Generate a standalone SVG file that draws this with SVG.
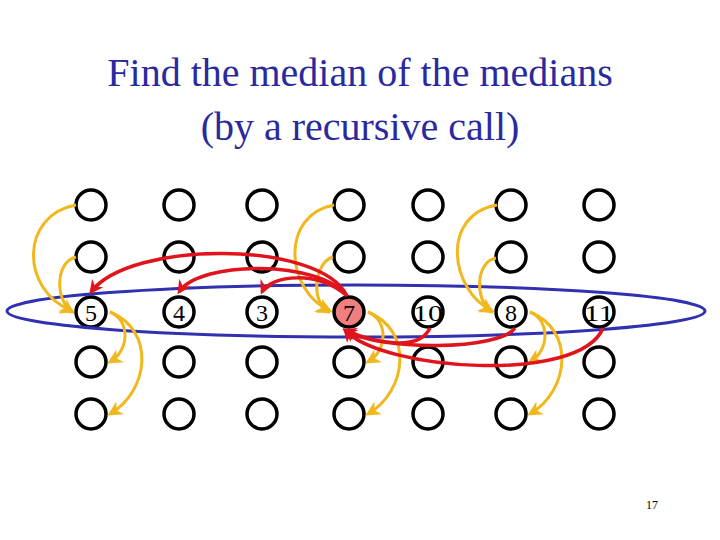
<svg xmlns="http://www.w3.org/2000/svg" width="720" height="540" viewBox="0 0 720 540">
<defs>
<style>
.t{font-family:"Liberation Serif",serif}
.n circle{fill:#fff;stroke:#000;stroke-width:3.5}
.y{fill:none;stroke:#f0b81c;stroke-width:3;marker-end:url(#ya)}
.r{fill:none;stroke:#e0141c;stroke-width:3.5;marker-end:url(#ra)}
</style>
<marker id="ya" viewBox="0 0 10 10" refX="8" refY="5" markerWidth="5" markerHeight="5" orient="auto-start-reverse"><path d="M0,0 L10,5 L0,10 L3,5z" fill="#f0b81c"/></marker>
<marker id="ra" viewBox="0 0 10 10" refX="8" refY="5" markerWidth="4" markerHeight="4" orient="auto-start-reverse"><path d="M0,0 L10,5 L0,10 L3,5z" fill="#e0141c"/></marker>
</defs>
<rect width="720" height="540" fill="#fff"/>
<text class="t" x="360" y="86" font-size="40" fill="#2a2aa0" text-anchor="middle">Find the median of the medians</text>
<text class="t" x="360" y="140" font-size="40" fill="#2a2aa0" text-anchor="middle">(by a recursive call)</text>
<g id="nodes" class="n">
<g id="c1"><circle cx="91" cy="205" r="15"/><circle cx="91" cy="257" r="15"/><circle cx="91" cy="312" r="15"/><circle cx="91" cy="362" r="15"/><circle cx="91" cy="414" r="15"/></g>
<g id="c2"><circle cx="179" cy="205" r="15"/><circle cx="179" cy="257" r="15"/><circle cx="179" cy="312" r="15"/><circle cx="179" cy="362" r="15"/><circle cx="179" cy="414" r="15"/></g>
<g id="c3"><circle cx="262" cy="205" r="15"/><circle cx="262" cy="257" r="15"/><circle cx="262" cy="312" r="15"/><circle cx="262" cy="362" r="15"/><circle cx="262" cy="414" r="15"/></g>
<g id="c4"><circle cx="349" cy="205" r="15"/><circle cx="349" cy="257" r="15"/><circle cx="349" cy="312" r="15" style="fill:#f08080"/><circle cx="349" cy="362" r="15"/><circle cx="349" cy="414" r="15"/></g>
<g id="c5"><circle cx="428" cy="205" r="15"/><circle cx="428" cy="257" r="15"/><circle cx="428" cy="312" r="15"/><circle cx="428" cy="362" r="15"/><circle cx="428" cy="414" r="15"/></g>
<g id="c6"><circle cx="511" cy="205" r="15"/><circle cx="511" cy="257" r="15"/><circle cx="511" cy="312" r="15"/><circle cx="511" cy="362" r="15"/><circle cx="511" cy="414" r="15"/></g>
<g id="c7"><circle cx="599" cy="205" r="15"/><circle cx="599" cy="257" r="15"/><circle cx="599" cy="312" r="15"/><circle cx="599" cy="362" r="15"/><circle cx="599" cy="414" r="15"/></g>
</g>
<ellipse cx="356" cy="311" rx="349" ry="26" fill="none" stroke="#3030b0" stroke-width="3"/>
<g id="labels" class="t" font-size="24" text-anchor="middle">
<text x="91" y="321">5</text><text x="179" y="321">4</text><text x="262" y="321">3</text><text x="349" y="321">7</text>
<text x="428" y="321" textLength="30" lengthAdjust="spacingAndGlyphs">10</text><text x="511" y="321">8</text><text x="599" y="321" textLength="30" lengthAdjust="spacingAndGlyphs">11</text>
</g>
<g id="connectors">
<path class="y" d="M76,205 C20,215 20,290 72,311"/>
<path class="y" d="M76,257 C55,262 55,300 72,312"/>
<path class="y" d="M110,312 C130,320 130,350 110,362"/>
<path class="y" d="M110,312 C155,330 150,390 110,414"/>
<path class="y" d="M334,205 C280,215 285,290 330,311"/>
<path class="y" d="M333,257 C315,262 310,300 328,312"/>
<path class="y" d="M368,312 C388,320 388,350 368,362"/>
<path class="y" d="M368,312 C413,330 408,390 368,414"/>
<path class="y" d="M497,205 C440,215 450,290 492,311"/>
<path class="y" d="M496,258 C475,262 475,300 491,312"/>
<path class="y" d="M530,312 C550,320 550,350 530,362"/>
<path class="y" d="M530,312 C575,330 570,390 530,414"/>
<path class="r" d="M347,296 C320,240 130,240 91,292"/>
<path class="r" d="M347,296 C320,260 200,260 179,292"/>
<path class="r" d="M347,296 C320,270 270,275 262,292"/>
<path class="r" d="M430,328 C420,350 380,345 345,330"/>
<path class="r" d="M515,328 C500,350 380,352 345,330"/>
<path class="r" d="M603,328 C580,385 380,370 345,330"/>
</g>
<text class="t" x="652" y="509" font-size="12" text-anchor="middle">17</text>
</svg>
